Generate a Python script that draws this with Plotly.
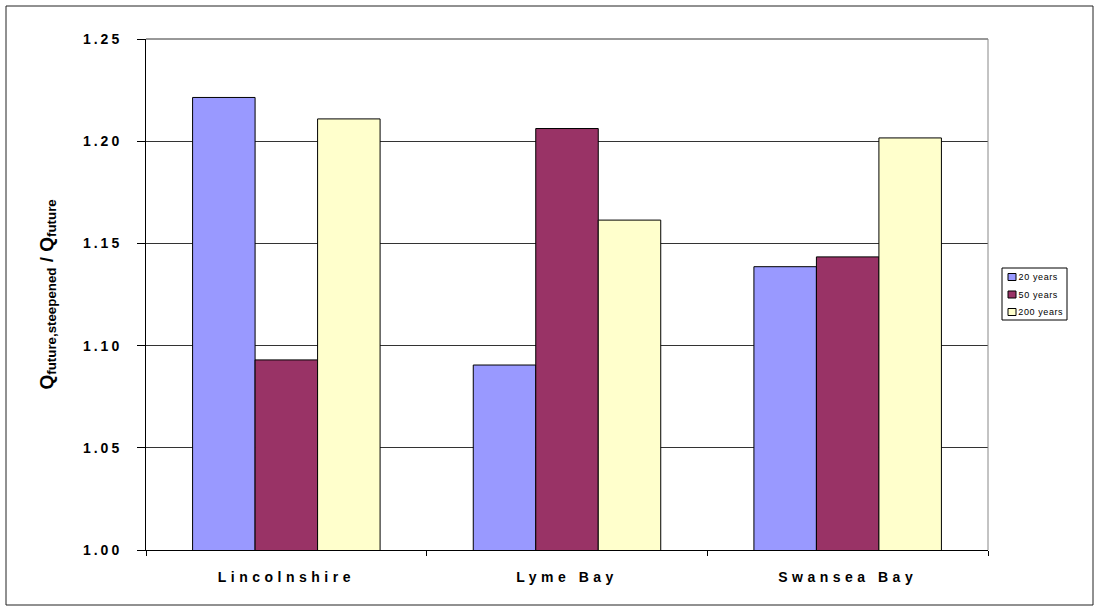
import plotly.graph_objects as go

# Sites and return-period ratios
sites = ["Lincolnshire", "Lyme Bay", "Swansea Bay"]
series_names = ["20 years", "50 years", "200 years"]
ratio_20 = [1.2214, 1.0905, 1.1386]
ratio_50 = [1.0930, 1.2062, 1.1434]
ratio_200 = [1.2109, 1.1614, 1.2016]
y_ticks = [1.00, 1.05, 1.10, 1.15, 1.20, 1.25]

colors = ["#9999FF", "#993366", "#FFFFCC"]

fig = go.Figure()
for name, vals, col in zip(series_names, [ratio_20, ratio_50, ratio_200], colors):
    fig.add_trace(go.Bar(
        x=sites, y=vals, name=name, showlegend=False,
        marker=dict(color=col, line=dict(color="#000000", width=1)),
    ))

L, R, T, B = 146, 106, 39, 56
W, H = 1094, 606
pw, ph = W - L - R, H - T - B

def px_x(x):
    return (x - L) / pw

def px_y(y):
    return (H - B - y) / ph

FONT = "Arial, Liberation Sans, sans-serif"

shapes = [
    # top and right edges of the plot area
    dict(type="line", xref="paper", yref="paper", x0=0, x1=1, y0=1, y1=1,
         line=dict(color="#333333", width=1)),
    dict(type="line", xref="paper", yref="paper", x0=1, x1=1, y0=0, y1=1,
         line=dict(color="#888888", width=1)),
    # outer chart frame
    dict(type="rect", xref="paper", yref="paper",
         x0=px_x(6), x1=px_x(1093), y0=px_y(605), y1=px_y(6),
         line=dict(color="#222222", width=1), layer="below"),
    # legend box
    dict(type="rect", xref="paper", yref="paper",
         x0=px_x(1002), x1=px_x(1067), y0=px_y(320), y1=px_y(268),
         line=dict(color="#000000", width=1), fillcolor="white"),
]

annotations = [dict(
    text="Q<sub>future,steepened</sub> / Q<sub>future</sub>",
    xref="paper", yref="paper", x=px_x(47), y=0.5,
    xanchor="center", yanchor="middle", textangle=-90, showarrow=False,
    font=dict(size=19, family=FONT, weight="bold", color="#000000"),
)]

# legend entries: small swatch plus label
row_centers = [277, 294.5, 312]
for name, col, yc in zip(series_names, colors, row_centers):
    shapes.append(dict(
        type="rect", xref="paper", yref="paper",
        x0=px_x(1008), x1=px_x(1016), y0=px_y(yc + 3.5), y1=px_y(yc - 3.5),
        line=dict(color="#000000", width=1), fillcolor=col,
    ))
    annotations.append(dict(
        text=name, xref="paper", yref="paper", x=px_x(1019), y=px_y(yc),
        xanchor="left", yanchor="middle", showarrow=False,
        font=dict(size=9, family=FONT, color="#000000"),
        name="legend-label",
    ))

fig.update_layout(
    width=W, height=H,
    margin=dict(l=L, r=R, t=T, b=B, autoexpand=False),
    paper_bgcolor="white", plot_bgcolor="white",
    barmode="group", bargap=0.332, bargroupgap=0,
    font=dict(family=FONT, color="#000000"),
    showlegend=False,
    xaxis=dict(
        type="category",
        showline=True, linecolor="#000000", linewidth=1,
        ticks="outside", ticklen=5, tickcolor="#000000", tickson="boundaries",
        tickfont=dict(size=14, family=FONT, weight="bold"),
        ticklabelstandoff=14,
        showgrid=False, zeroline=False,
    ),
    yaxis=dict(
        range=[1.0, 1.25], tickvals=y_ticks, tickformat=".2f",
        showline=True, linecolor="#000000", linewidth=1,
        ticks="outside", ticklen=8, tickcolor="#000000",
        tickfont=dict(size=14, family=FONT, weight="bold"),
        ticklabelstandoff=12,
        showgrid=True, gridcolor="#333333", gridwidth=1,
        zeroline=False,
    ),
    annotations=annotations,
    shapes=shapes,
)

post = """
var gd = document.getElementById('{plot_id}');
function spaceText(){
  gd.querySelectorAll('.xtick text').forEach(function(t){ t.style.letterSpacing='4.5px'; });
  gd.querySelectorAll('.ytick text').forEach(function(t){ t.style.letterSpacing='3px'; });
  gd.querySelectorAll('.annotation-text').forEach(function(t){
    if (/years/.test(t.textContent)) { t.style.letterSpacing='0.6px'; }
  });
}
spaceText();
gd.on('plotly_afterplot', spaceText);
"""

fig.write_html("out.html", post_script=post)
